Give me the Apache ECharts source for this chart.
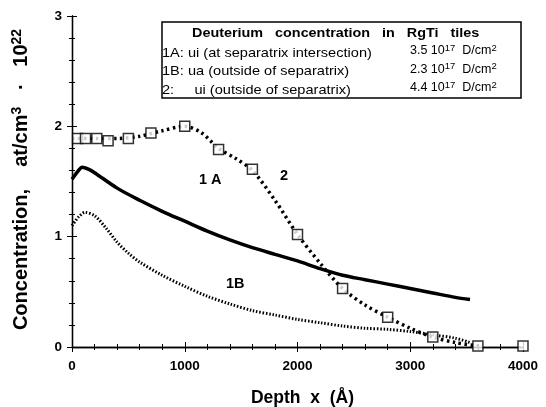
<!DOCTYPE html>
<html>
<head>
<meta charset="utf-8">
<script src="https://cdn.jsdelivr.net/npm/echarts@6/dist/echarts.min.js"></script>
<style>
  html, body { margin: 0; padding: 0; background: #fff; }
  #chart { width: 546px; height: 407px; }
</style>
</head>
<body>
<div id="chart"></div>
<script>
// 数据
const depth1A = [0, 50, 90, 150, 200, 400, 600, 800, 1000, 1200, 1400, 1600, 1800, 2000, 2200, 2400, 2600, 2800, 3000, 3200, 3400, 3530];
const conc1A = [1.52, 1.59, 1.63, 1.61, 1.58, 1.44, 1.33, 1.23, 1.14, 1.05, 0.97, 0.90, 0.84, 0.78, 0.71, 0.65, 0.61, 0.57, 0.53, 0.49, 0.45, 0.43];

const depth1B = [0, 60, 115, 200, 300, 400, 500, 600, 800, 1000, 1200, 1400, 1600, 1800, 2000, 2200, 2400, 2600, 2800, 3000, 3200, 3400, 3530];
const conc1B = [1.10, 1.18, 1.22, 1.19, 1.08, 0.95, 0.85, 0.77, 0.65, 0.55, 0.46, 0.39, 0.33, 0.29, 0.25, 0.22, 0.19, 0.17, 0.16, 0.14, 0.11, 0.08, 0.04];

const depth2 = [0, 200, 400, 600, 800, 1000, 1150, 1300, 1450, 1600, 1800, 2000, 2200, 2400, 2600, 2800, 3000, 3200, 3400, 3600];
const conc2 = [1.89, 1.89, 1.89, 1.91, 1.96, 2.00, 1.94, 1.80, 1.71, 1.60, 1.33, 1.02, 0.76, 0.53, 0.38, 0.27, 0.17, 0.09, 0.04, 0.01];

const depthSq = [50, 120, 220, 320, 500, 700, 1000, 1300, 1600, 2000, 2400, 2800, 3200, 3600, 4000];
const concSq = [1.89, 1.89, 1.89, 1.87, 1.89, 1.94, 2.00, 1.79, 1.61, 1.02, 0.53, 0.27, 0.09, 0.01, 0.01];

const xTicks = [0, 1000, 2000, 3000, 4000];
const yTicks = [0, 1, 2, 3];

const legendTitle = 'Deuterium   concentration   in   RgTi   tiles';
const legendRows = [
    ['1A: ui (at separatrix intersection)', '3.5', '17'],
    ['1B: ua (outside of separatrix)', '2.3', '17'],
    ['2:     ui (outside of separatrix)', '4.4', '17']
];

const FONT = '"Liberation Sans", Arial, sans-serif';

function pairs(xs, ys) {
    return xs.map((x, i) => [x, ys[i]]);
}

const axisCommon = {
    axisLine: {lineStyle: {color: '#000', width: 1.3}},
    axisTick: {inside: true, length: 5, lineStyle: {color: '#000', width: 1}},
    minorTick: {show: true, splitNumber: 5, length: 3, lineStyle: {color: '#000', width: 1}},
    splitLine: {show: false}
};

const legendTexts = [];
legendTexts.push({
    type: 'text', x: 192, y: 27, scaleX: 1.15,
    style: {text: legendTitle, font: 'bold 12.5px ' + FONT, fill: '#000'}
});
legendRows.forEach((r, i) => {
    const y = 46 + i * 18.5;
    legendTexts.push({
        type: 'text', x: 162, y: y, scaleX: 1.08,
        style: {text: r[0], font: '13.5px ' + FONT, fill: '#000'}
    });
    legendTexts.push({
        type: 'text', x: 410, y: y - 3,
        style: {
            text: r[1] + ' 10{s|' + r[2] + '}  D/cm{s|2}',
            font: '12.5px ' + FONT, fill: '#000',
            rich: {s: {fontSize: 9.5, fontFamily: FONT, verticalAlign: 'top', padding: [0, 0, 6, 0]}}
        }
    });
});

const option = {
    animation: false,
    backgroundColor: '#fff',
    grid: {left: 72, right: 23, top: 16, bottom: 60, outerBoundsMode: 'none'},
    xAxis: [{
        type: 'value', min: 0, max: 4000, interval: 1000,
        ...axisCommon,
        axisLabel: {
            color: '#000', fontFamily: FONT, fontWeight: 'bold', fontSize: 13.5, margin: 12,
            formatter: v => xTicks.includes(v) ? String(v) : ''
        },
        name: 'Depth  x  (Å)', nameLocation: 'middle', nameGap: 42,
        nameTextStyle: {color: '#000', fontFamily: FONT, fontWeight: 'bold', fontSize: 17.5, padding: [0, 0, 0, 10]}
    }, {
        type: 'value', min: 0, max: 4000, interval: 1000, position: 'top',
        ...axisCommon, axisLabel: {show: false}
    }],
    yAxis: [{
        type: 'value', min: 0, max: 3, interval: 1,
        ...axisCommon,
        axisLabel: {
            color: '#000', fontFamily: FONT, fontWeight: 'bold', fontSize: 13.5, margin: 10,
            formatter: v => yTicks.includes(v) ? String(v) : ''
        },
        name: 'Concentration,    at/cm{s|3}   ·   10{s|22}', nameLocation: 'middle', nameGap: 39, nameRotate: 90,
        nameTextStyle: {
            color: '#000', fontFamily: FONT, fontWeight: 'bold', fontSize: 20,
            padding: [0, 0, 0, 4],
            rich: {s: {fontFamily: FONT, fontWeight: 'bold', fontSize: 14, verticalAlign: 'top', padding: [0, 0, 9, 0]}}
        }
    }, {
        type: 'value', min: 0, max: 3, interval: 1, position: 'right',
        ...axisCommon, axisLabel: {show: false}
    }],
    graphic: [
        {
            type: 'rect', shape: {x: 162, y: 22, width: 359, height: 76},
            style: {fill: '#fff', stroke: '#000', lineWidth: 1.5}, z: 10
        },
        ...legendTexts.map(t => Object.assign(t, {z: 11})),
        {type: 'text', left: 280, top: 168, z: 11, style: {text: '2', font: 'bold 14.5px ' + FONT, fill: '#000'}},
        {type: 'text', left: 199, top: 172, z: 11, style: {text: '1 A', font: 'bold 14.5px ' + FONT, fill: '#000'}},
        {type: 'text', left: 226, top: 276, z: 11, style: {text: '1B', font: 'bold 14.5px ' + FONT, fill: '#000'}}
    ],
    series: [
        {
            name: '1A', type: 'line', data: pairs(depth1A, conc1A), smooth: 0.3,
            showSymbol: false, lineStyle: {color: '#000', width: 3.5}
        },
        {
            name: '1B', type: 'line', data: pairs(depth1B, conc1B), smooth: 0.3,
            showSymbol: false, lineStyle: {color: '#000', width: 3, type: [1.5, 1.8]}
        },
        {
            name: '2 fit', type: 'line', data: pairs(depth2, conc2), smooth: 0.3,
            showSymbol: false, lineStyle: {color: '#000', width: 3.5, type: [2.5, 3.5]}
        },
        {
            name: '2', type: 'scatter', data: pairs(depthSq, concSq),
            symbol: 'rect', symbolSize: 10,
            itemStyle: {color: '#fff', borderColor: '#000', borderWidth: 1.5}, z: 5
        }
    ]
};

const chart = echarts.init(document.getElementById('chart'));
chart.setOption(option);
</script>
</body>
</html>
